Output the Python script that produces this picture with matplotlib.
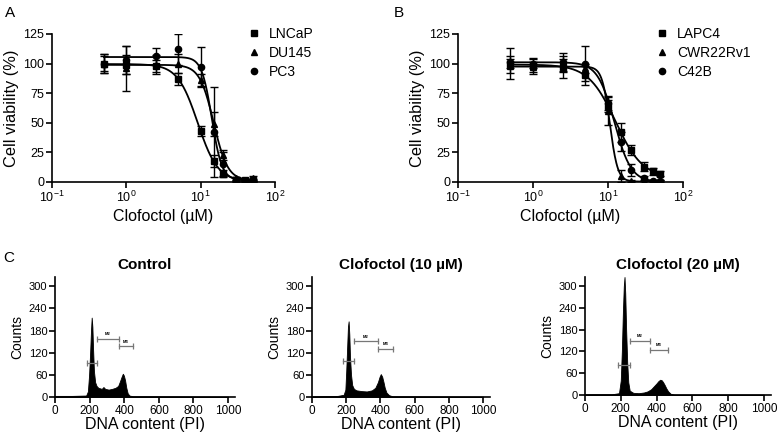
import numpy as np
import matplotlib
matplotlib.use("Agg")
import matplotlib.pyplot as plt
from matplotlib.ticker import LogLocator, NullLocator

plt.rcParams['font.family'] = ['Liberation Sans', 'DejaVu Sans']
plt.rcParams['mathtext.fontset'] = 'custom'
plt.rcParams['mathtext.rm'] = 'Liberation Sans'
plt.rcParams['mathtext.it'] = 'Liberation Sans:italic'
plt.rcParams['mathtext.bf'] = 'Liberation Sans:bold'

# ---- viability data (uM, %) ----
conc = [0.5, 1, 2.5, 5, 10, 15, 20, 30, 40, 50]

lncap = [100, 99, 98, 87, 43, 18, 7, 2, 1.5, 1.5]
lncap_err = [8, 8, 5, 5, 4, 5, 3, 1, 1, 1]
du145 = [100, 96, 99, 100, 86, 49, 23, 3, 2, 3]
du145_err = [6, 19, 8, 8, 5, 10, 4, 1, 1, 2]
pc3 = [100, 103, 106, 112, 97, 42, 15, 2, 1, 1]
pc3_err = [8, 12, 7, 13, 17, 38, 10, 2, 1, 1]

lapc4 = [100, 98, 97, 90, 64, 42, 27, 13, 9, 7]
lapc4_err = [13, 7, 9, 8, 5, 8, 4, 4, 3, 2]
cwr22 = [98, 97, 99, 96, 60, 5, 1, 0.5, 0.5, 0.5]
cwr22_err = [6, 4, 5, 4, 12, 5, 1, 1, 1, 1]
c42b = [101, 100, 101, 100, 67, 34, 10, 3, 1, 1]
c42b_err = [5, 4, 8, 15, 6, 8, 5, 2, 1, 1]

names_a = ['LNCaP', 'DU145', 'PC3']
names_b = ['LAPC4', 'CWR22Rv1', 'C42B']
markers = ['s', '^', 'o']

# ---- cell cycle histograms (DNA content, counts) ----
ctrl_x = [0, 100, 180, 190, 197, 203, 208, 212, 216, 220, 225, 232, 240, 250, 270, 280, 290, 310,
          330, 350, 365, 375, 385, 392, 398, 405, 412, 420, 430, 450, 500, 1000]
ctrl_y = [3, 3, 4, 15, 60, 120, 180, 215, 190, 130, 70, 40, 30, 25, 22, 27, 22, 20,
          22, 25, 30, 42, 55, 63, 58, 45, 25, 10, 4, 2, 2, 1]
c10_x = [0, 150, 185, 195, 200, 205, 210, 214, 218, 222, 228, 235, 245, 260, 290, 320, 350,
         370, 385, 395, 402, 410, 418, 425, 435, 450, 470, 1000]
c10_y = [2, 3, 6, 20, 70, 130, 190, 205, 170, 110, 60, 32, 22, 18, 16, 15, 18,
         25, 40, 55, 62, 55, 40, 25, 12, 5, 2, 1]
c20_x = [0, 150, 190, 200, 206, 212, 217, 221, 225, 230, 236, 242, 250, 270, 300, 330, 350, 370,
         385, 400, 410, 420, 428, 436, 445, 455, 465, 480, 500, 1000]
c20_y = [2, 2, 5, 40, 120, 230, 300, 325, 280, 180, 90, 35, 12, 6, 5, 7, 10, 16,
         24, 32, 38, 42, 41, 36, 28, 18, 10, 3, 1, 1]

# gates: (x start, x end, y level)
ctrl_gates = [(187, 244, 92), (240, 371, 158), (371, 448, 138)]
c10_gates = [(180, 246, 98), (243, 383, 152), (383, 476, 131)]
c20_gates = [(185, 254, 83), (250, 361, 150), (361, 463, 125)]

titles_c = ['Control', 'Clofoctol (10 \u00b5M)', 'Clofoctol (20 \u00b5M)']


def fit_curve(x, y):
    # 4PL fit: grid search on logIC50 and slope, top/bottom by least squares
    lx = np.log10(np.asarray(x, float))
    y = np.asarray(y, float)
    best = None
    for lic in np.linspace(0.3, 1.8, 301):
        for h in np.linspace(1, 20, 191):
            s = 1.0 / (1 + 10 ** ((lx - lic) * h))
            A = np.column_stack([s, 1 - s])
            coef, res, _, _ = np.linalg.lstsq(A, y, rcond=None)
            sse = np.sum((A @ coef - y) ** 2)
            if best is None or sse < best[0]:
                best = (sse, lic, h, coef)
    _, lic, h, (top, bot) = best
    xs = np.logspace(np.log10(min(x)), np.log10(max(x)), 300)
    ys = bot + (top - bot) / (1 + 10 ** ((np.log10(xs) - lic) * h))
    return xs, ys


def style_axis(ax, xsize, ysize):
    for s in ['top', 'right']:
        ax.spines[s].set_visible(False)
    for s in ['left', 'bottom']:
        ax.spines[s].set_linewidth(1.2)
    ax.tick_params(width=1.2, length=4, pad=1.5)
    ax.tick_params(axis='x', labelsize=xsize)
    ax.tick_params(axis='y', labelsize=ysize)


def viability(ax, ys, errs, names, leg_anchor):
    for y, e, m, n in zip(ys, errs, markers, names):
        xs, fy = fit_curve(conc, y)
        ax.plot(xs, fy, color='black', lw=1.3, zorder=2)
        ax.errorbar(conc, y, yerr=e, fmt='none', ecolor='black', elinewidth=1.0,
                    capsize=3, capthick=1.0, zorder=3)
        ax.plot(conc, y, m, color='black', ms=4.5, ls='none', label=n, zorder=4)
    ax.set_xscale('log')
    ax.set_xlim(0.1, 100)
    ax.set_ylim(0, 125)
    ax.set_yticks([0, 25, 50, 75, 100, 125])
    ax.xaxis.set_major_locator(LogLocator(base=10, numticks=5))
    ax.xaxis.set_minor_locator(NullLocator())
    ax.set_xlabel('Clofoctol (\u00b5M)', fontsize=11.5, labelpad=3)
    ax.set_ylabel('Cell viability (%)', fontsize=11.8, labelpad=3)
    style_axis(ax, 9, 9)
    ax.legend(loc='upper left', bbox_to_anchor=leg_anchor, bbox_transform=fig.transFigure,
              frameon=False, fontsize=10, handlelength=0.8, handletextpad=0.7,
              labelspacing=0.35, borderaxespad=0, borderpad=0)


def histogram(ax, x, y, gates, title):
    ax.fill_between(x, y, 0, color='black', lw=0.6)
    for i, (g0, g1, gy) in enumerate(gates):
        ax.plot([g0, g1], [gy, gy], color='#777777', lw=0.9)
        ax.plot([g0, g1], [gy, gy], '|', color='#777777', ms=5, mew=0.9)
        if i > 0:
            ax.text((g0 + g1) / 2, gy + 6, 'M%d' % (i + 1), fontsize=3, ha='center',
                    va='bottom', fontweight='bold')
    ax.set_xlim(0, 1040)
    ax.set_ylim(0, 325)
    ax.set_xticks([0, 200, 400, 600, 800, 1000])
    ax.set_yticks([0, 60, 120, 180, 240, 300])
    ax.set_xlabel('DNA content (PI)', fontsize=11.5, labelpad=0)
    ax.set_ylabel('Counts', fontsize=10, labelpad=3)
    ax.set_title(title, fontsize=11, fontweight='bold', pad=6)
    style_axis(ax, 8.5, 8)


fig = plt.figure(figsize=(7.77, 4.40), dpi=100)
W, H = 777.0, 440.0


def px_axes(l, r, b, t):
    return fig.add_axes([l / W, 1 - b / H, (r - l) / W, (b - t) / H])


ax_a = px_axes(52, 275, 182, 34)
ax_b = px_axes(458, 683, 182, 34)
viability(ax_a, [lncap, du145, pc3], [lncap_err, du145_err, pc3_err], names_a,
          (248 / W, 1 - 27 / H))
viability(ax_b, [lapc4, cwr22, c42b], [lapc4_err, cwr22_err, c42b_err], names_b,
          (656 / W, 1 - 27 / H))

ax_c1 = px_axes(55, 235, 397, 277)
ax_c2 = px_axes(312, 490, 397, 277)
ax_c3 = px_axes(585, 771, 395, 277)
histogram(ax_c1, ctrl_x, ctrl_y, ctrl_gates, titles_c[0])
histogram(ax_c2, c10_x, c10_y, c10_gates, titles_c[1])
histogram(ax_c3, c20_x, c20_y, c20_gates, titles_c[2])

fig.text(5 / W, 1 - 13 / H, 'A', fontsize=11, va='center')
fig.text(394 / W, 1 - 13 / H, 'B', fontsize=11, va='center')
fig.text(3 / W, 1 - 258 / H, 'C', fontsize=11, va='center')

fig.savefig('out.png', dpi=100)
